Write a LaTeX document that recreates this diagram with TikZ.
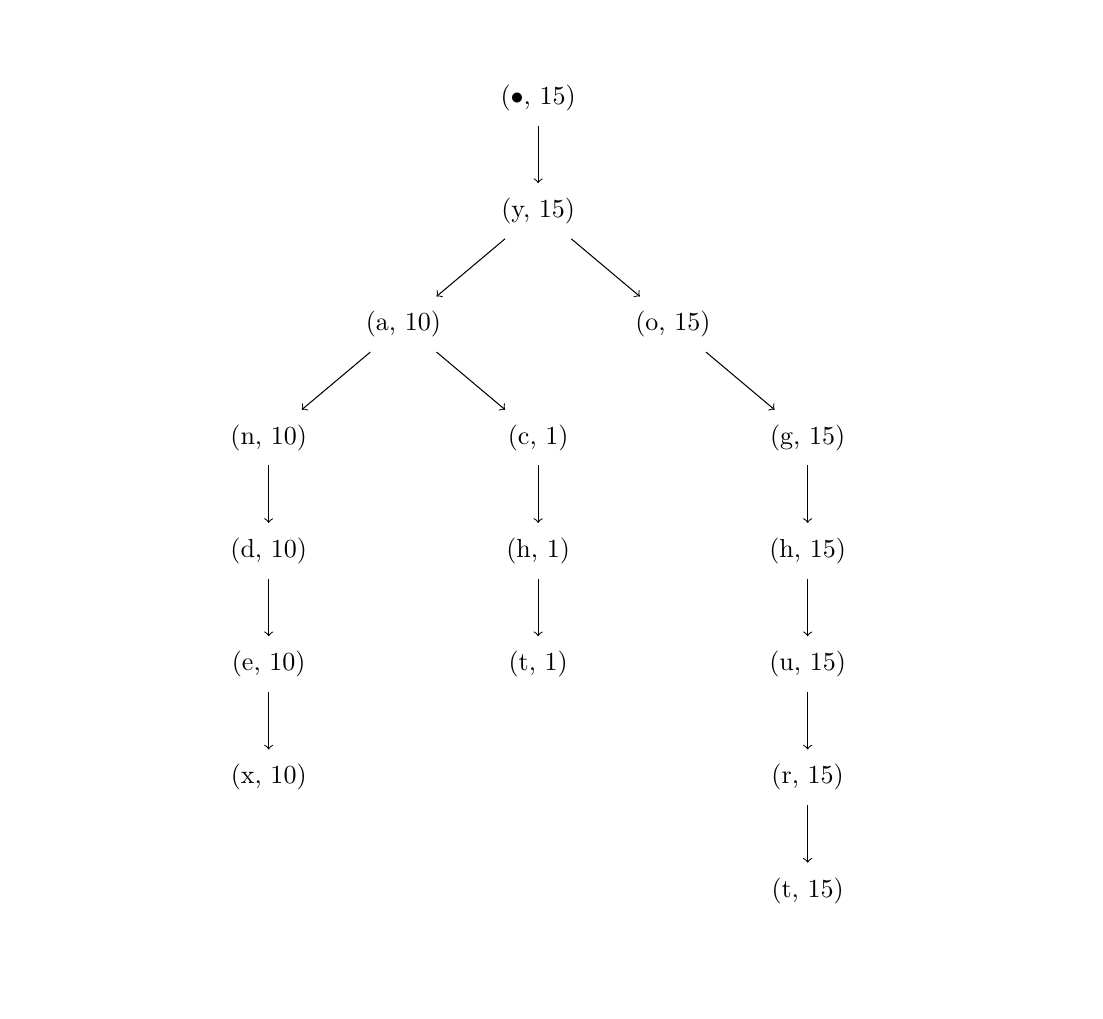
\documentclass[tikz,border=0pt]{standalone}
\usepackage{tikz}
\usetikzlibrary{arrows,positioning}

\begin{document}
\begin{tikzpicture}[on grid, node distance=1.53cm and 1.82cm, every node/.style={inner sep=5.5pt}]
				\useasboundingbox (-7.27,1.32) rectangle (7.63,-12.44);
				\node (root) {($\bullet$, 15)};
				\node[below=of root] (y15) {(y, 15)};
				\node[below left=of y15] (a10) {(a, 10)};
				\node[below right=of y15] (o15) {(o, 15)};
				\node[below left=of a10] (n10) {(n, 10)};
				\node[below right=of a10] (c1) {(c, 1)};
				\node[below right=of o15] (g15) {(g, 15)};
				\node[below=of n10] (d10) {(d, 10)};
				\node[below=of d10] (e10) {(e, 10)};
				\node[below=of e10] (x10) {(x, 10)};
				\node[below=of c1] (h1) {(h, 1)};
				\node[below=of h1] (t1) {(t, 1)};
				\node[below=of g15] (h15) {(h, 15)};
				\node[below=of h15] (u15) {(u, 15)};
				\node[below=of u15] (r15) {(r, 15)};
				\node[below=of r15] (t15) {(t, 15)};
				
				\draw[->] (root) -- (y15);
				\draw[->] (y15) -- (a10);
				\draw[->] (y15) -- (o15);
				\draw[->] (a10) -- (n10);
				\draw[->] (a10) -- (c1);
				\draw[->] (o15) -- (g15);
				\draw[->] (n10) -- (d10);
				\draw[->] (d10) -- (e10);
				\draw[->] (e10) -- (x10);
				\draw[->] (c1) -- (h1);
				\draw[->] (h1) -- (t1);
				\draw[->] (g15) -- (h15);
				\draw[->] (h15) -- (u15);
				\draw[->] (u15) -- (r15);
				\draw[->] (r15) -- (t15);
\end{tikzpicture}
\end{document}
